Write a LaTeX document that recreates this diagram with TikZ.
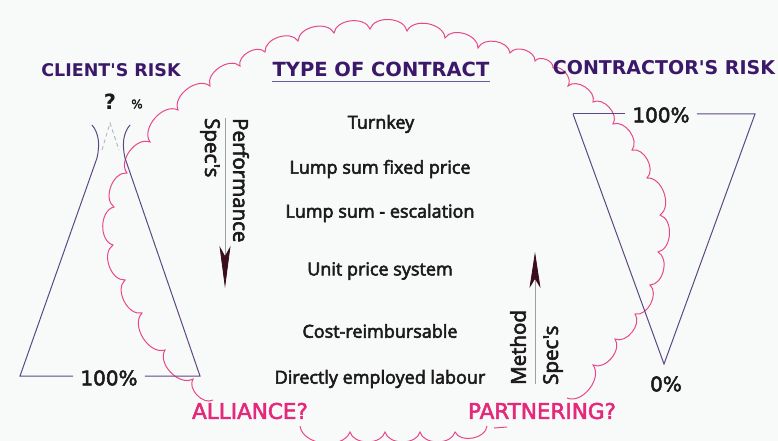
\documentclass[tikz,border=0pt]{standalone}
\usepackage{fontspec}
\setmainfont{Open Sans}
\newfontfamily\dvfont{DejaVu Sans}
\newfontfamily\dvmed{DejaVu Sans}[FakeBold=2.5]
\newfontfamily\osmed{Open Sans}[FakeBold=3]
\usetikzlibrary{arrows.meta}
\definecolor{bg}{RGB}{247,250,249}
\definecolor{hdr}{HTML}{3B1869}
\definecolor{tri}{HTML}{5C4882}
\definecolor{cloudc}{HTML}{E8488A}
\definecolor{pinklbl}{HTML}{E5287A}
\definecolor{arrc}{HTML}{3A0C1E}
\definecolor{txt}{HTML}{1C1A1C}
\definecolor{ulc}{HTML}{6A5A9A}
\begin{document}
\begin{tikzpicture}[x=1pt,y=1pt,
  header/.style={text=hdr,inner sep=0pt},
  item/.style={text=txt,font=\osmed\fontsize{18}{20}\selectfont,inner sep=0pt},
  pct/.style={text=txt,font=\dvmed\fontsize{20}{22}\selectfont,inner xsep=7pt,inner ysep=0pt},
  rotlbl/.style={text=txt,font=\osmed\fontsize{20.5}{22}\selectfont,inner sep=0pt},
  pinklabel/.style={text=pinklbl,font=\dvmed\fontsize{21.5}{24}\selectfont,inner sep=0pt},
  triline/.style={draw=tri,line width=1pt},
  cloudline/.style={draw=cloudc,line width=1pt},
  scal/.style={bend left=75},
  spec/.style={draw=gray!75,line width=0.8pt}]
\useasboundingbox (0,0) rectangle (778,-441);
\fill[bg] (0,0) rectangle (778,-441);

% ---------- cloud ----------
\draw[cloudline] (213,-400) to[scal] (193,-379) to[scal] (165,-350)
  to[scal] (142,-313) to[scal] (125,-280) to[scal] (113,-245)
  to[scal] (114,-207) to[scal] (127,-173) to[scal] (150,-142)
  to[scal] (178,-110) to[scal] (210,-86) to[scal] (240,-66) to[scal] (265,-52)
  to[scal] (298,-41) to[scal] (334,-33) to[scal] (370,-29) to[scal] (407,-31)
  to[scal] (445,-38) to[scal] (478,-48) to[scal] (510,-53) to[scal] (535,-61)
  to[scal] (553,-68) to[scal] (568,-86) to[scal] (593,-102) to[scal] (613,-124)
  to[scal] (632,-150) to[scal] (647,-178)
  to[scal] (660,-215) to[scal] (658,-252) to[scal] (650,-285) to[scal] (635,-314)
  to[scal] (615,-339) to[scal] (593,-365) to[scal] (567,-398);
\draw[cloudline] (487,-426) to[scal] (455,-432) to[scal] (420,-432) to[scal] (385,-432)
  to[scal] (350,-432) to[scal] (300,-426);
\coordinate (dashA) at (494,-428);
\coordinate (dashB) at (507,-427);
\draw[cloudline] (dashA) -- (dashB);

% ---------- headers ----------
\node[header,font=\dvfont\bfseries\fontsize{17.5}{20}\selectfont] (client) at (111,-70) {CLIENT'S RISK};
\node[header,font=\dvfont\bfseries\fontsize{19.5}{22}\selectfont] (type) at (381,-69) {TYPE OF CONTRACT};
\draw[draw=ulc,line width=0.9pt] ([yshift=-5pt]type.south west) -- ([yshift=-5pt]type.south east);
\node[header,font=\dvfont\bfseries\fontsize{19}{22}\selectfont] (contractor) at (664,-68) {CONTRACTOR'S RISK};

% ---------- left triangle ----------
\node[text=txt,font=\dvfont\bfseries\fontsize{21}{22}\selectfont,inner sep=0pt] (qm) at (110,-102) {?};
\node[text=txt,font=\dvmed\fontsize{12}{14}\selectfont,inner sep=0pt] (qpct) at (137,-104) {\%};
\coordinate (lcl) at (97,-158);
\coordinate (lcr) at (125,-158);
\coordinate (ltl) at (92,-125);
\coordinate (ltr) at (130,-125);
\coordinate (lbl) at (20,-376);
\coordinate (lbr) at (200,-376);
\node[pct] (l100) at (109,-378) {100\%};
\draw[triline] (lcl) -- (lbl) -- (lbl -| l100.west);
\draw[triline] (lbr -| l100.east) -- (lbr) -- (lcr);
\draw[triline] (lcl) .. controls (100,-145) and (99,-133) .. (ltl);
\draw[triline] (lcr) .. controls (122,-145) and (123,-133) .. (ltr);
\coordinate (dl) at (102,-150);
\coordinate (dapex) at (110,-123);
\coordinate (dr) at (119,-150);
\draw[draw=gray!60,line width=0.8pt,dash pattern=on 4pt off 3pt] (dl) -- (dapex) -- (dr);

% ---------- right triangle ----------
\coordinate (rtl) at (573,-114);
\coordinate (rtr) at (755,-114);
\coordinate (rbot) at (664,-364);
\node[pct] (r100) at (661,-115) {100\%};
\draw[triline] (rtl) -- (rtl -| r100.west);
\draw[triline] (rtr -| r100.east) -- (rtr) -- (rbot) -- (rtl);
\node[pct] (r0) at (666,-384) {0\%};

% ---------- contract types ----------
\node[item] (t1) at (381,-124) {Turnkey};
\node[item] (t2) at (380,-169) {Lump sum fixed price};
\node[item] (t3) at (380,-213) {Lump sum - escalation};
\node[item] (t4) at (380,-271) {Unit price system};
\node[item] (t5) at (380,-331) {Cost-reimbursable};
\node[item] (t6) at (380,-379) {Directly employed labour};

% ---------- spec arrows ----------
\coordinate (pTop) at (225,-118);
\coordinate (pTip) at (225,-288);
\draw[spec,-{Stealth[length=42pt,width=11pt,inset=10pt,color=arrc]}] (pTop) -- (pTip);
\node[rotlbl,rotate=-90,anchor=west] (perf) at (241,-118) {Performance};
\node[rotlbl,rotate=-90,anchor=west] (pspec) at (210,-118) {Spec's};

\coordinate (mBot) at (535,-384);
\coordinate (mTip) at (535,-252);
\draw[spec,-{Stealth[length=36pt,width=11pt,inset=9pt,color=arrc]}] (mBot) -- (mTip);
\node[rotlbl,rotate=90,anchor=west] (meth) at (518,-385) {Method};
\node[rotlbl,rotate=90,anchor=west] (mspec) at (553,-385) {Spec's};

% ---------- pink labels ----------
\node[pinklabel] (alliance) at (250,-411) {ALLIANCE?};
\node[pinklabel] (partnering) at (542,-411) {PARTNERING?};
\end{tikzpicture}
\end{document}
